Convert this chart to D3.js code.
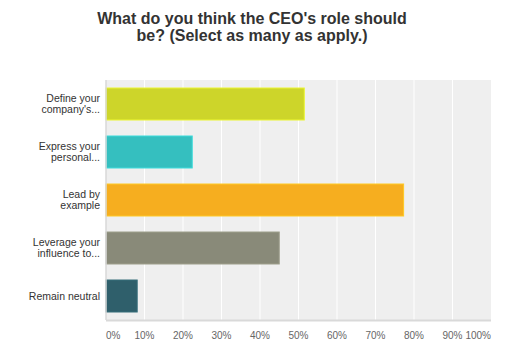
<!DOCTYPE html>
<html>
<head>
<meta charset="utf-8">
<script src="https://cdn.jsdelivr.net/npm/d3@7"></script>
<style>
  body { margin: 0; background: #fff; }
  text { font-family: "Liberation Sans", Arial, sans-serif; }
</style>
</head>
<body>
<div id="chart"></div>
<script>
// données
const categories = [
  ["Define your", "company's..."],
  ["Express your", "personal..."],
  ["Lead by", "example"],
  ["Leverage your", "influence to..."],
  ["Remain neutral"]
];
const valeurs = [51.5, 22.4, 77.3, 45.0, 8.1];
const couleurs = ["#cdd52a", "#35bfbf", "#f6ae1f", "#898a79", "#2f5f6b"];
const ticks = [0, 10, 20, 30, 40, 50, 60, 70, 80, 90, 100];
const titre = ["What do you think the CEO's role should", "be? (Select as many as apply.)"];

const W = 505, H = 353;
let margin = { top: 80, right: 14, bottom: 33, left: 106 };
let width = W - margin.left - margin.right,
    height = H - margin.top - margin.bottom;

let svg = d3.select("#chart")
  .append("svg")
  .attr("width", W)
  .attr("height", H);

// titre
svg.append("text")
  .attr("x", 252)
  .attr("y", 24)
  .attr("text-anchor", "middle")
  .style("font-size", "16px")
  .style("font-weight", "bold")
  .style("fill", "#333")
  .selectAll("tspan")
  .data(titre)
  .enter()
  .append("tspan")
  .attr("x", 252)
  .attr("dy", (d, i) => i === 0 ? 0 : 17)
  .text(d => d);

let g = svg.append("g")
  .attr("transform", "translate(" + margin.left + "," + margin.top + ")");

// échelles
let x = d3.scaleLinear().domain([0, 100]).range([0, width]);
let y = d3.scaleBand()
  .domain(d3.range(categories.length))
  .range([0, height])
  .paddingInner(1 / 3)
  .paddingOuter(1 / 6);

// fond
g.append("rect")
  .attr("x", 0).attr("y", 0)
  .attr("width", width).attr("height", height)
  .attr("fill", "#efefef");

// grille
g.append("g")
  .selectAll("line")
  .data(ticks.filter(t => t > 0 && t < 100))
  .enter()
  .append("line")
  .attr("x1", d => x(d)).attr("x2", d => x(d))
  .attr("y1", 0).attr("y2", height)
  .attr("stroke", "#fff")
  .attr("stroke-width", 1);

// barres
g.append("g")
  .selectAll("rect")
  .data(valeurs)
  .enter()
  .append("rect")
  .attr("x", x(0))
  .attr("y", (d, i) => y(i))
  .attr("width", d => x(d) - x(0))
  .attr("height", y.bandwidth())
  .attr("fill", (d, i) => couleurs[i])
  .attr("stroke", (d, i) => d3.color(couleurs[i]).brighter(0.4))
  .attr("stroke-width", 1);

// axes
g.append("line")
  .attr("x1", 0).attr("x2", 0)
  .attr("y1", 0).attr("y2", height)
  .attr("stroke", "#d9d9d9").attr("stroke-width", 1.5);

g.append("line")
  .attr("x1", 0).attr("x2", width)
  .attr("y1", height + 0.5).attr("y2", height + 0.5)
  .attr("stroke", "#d9d9d9").attr("stroke-width", 2);

// étiquettes de l'axe X
g.append("g")
  .selectAll("text")
  .data(ticks)
  .enter()
  .append("text")
  .attr("x", d => x(d))
  .attr("y", height + 19)
  .attr("text-anchor", d => d === 0 ? "start" : d === 100 ? "end" : "middle")
  .style("font-size", "10px")
  .style("fill", "#666")
  .text(d => d + "%");

// étiquettes des catégories
let lab = g.append("g")
  .selectAll("text")
  .data(categories)
  .enter()
  .append("text")
  .attr("text-anchor", "end")
  .attr("x", -6)
  .attr("y", (d, i) => y(i) + y.bandwidth() / 2 - (d.length - 1) * 5.5 + 3.5)
  .style("font-size", "10.5px")
  .style("fill", "#333");

lab.selectAll("tspan")
  .data(d => d)
  .enter()
  .append("tspan")
  .attr("x", -6)
  .attr("dy", (d, i) => i === 0 ? 0 : 11)
  .text(d => d);
</script>
</body>
</html>
